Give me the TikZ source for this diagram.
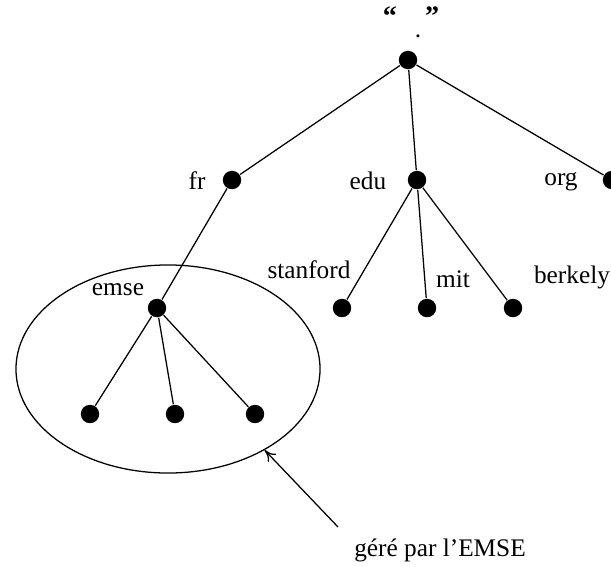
\documentclass[tikz,border=0pt]{standalone}
\usepackage{fontspec}
\setmainfont{Liberation Serif}
\usetikzlibrary{shapes.geometric,arrows.meta}

\begin{document}
\begin{tikzpicture}[x=0.025cm,y=-0.025cm]
		\tikzset{
			dot/.style ={
				circle, %noeud plein
				minimum size =0.46cm,
				inner sep=0pt,
				fill=black
			},
			lbl/.style ={
				inner sep=1pt,
				font=\fontsize{18}{21}\selectfont
			}
		}
		\useasboundingbox (0,0) rectangle (611,566);
		\begin{scope}[line width=0.9pt]
		% noeuds
		\node[dot] (1) at(408,60){};
		\node[dot] (2) at(232,180){};
		\node[dot] (3) at(417,180){};
		\node[dot] (4) at(612,180){};
		\node[dot] (5) at(157,308){};
		\node[dot] (6) at(342,308){};
		\node[dot] (7) at(427,308){};
		\node[dot] (8) at(513,308){};
		\node[dot] (9) at(90,414){};
		\node[dot] (10) at(175,414){};
		\node[dot] (11) at(255,414){};
		% etiquettes
		\node[lbl,font=\fontsize{20}{22}\selectfont\bfseries] (q) at(411,16){``\hspace{1em}''};
		\node[lbl,inner sep=0pt] (pt) at(418,36){.};
		\node[lbl] (fr) at(197,181){fr};
		\node[lbl] (edu) at(368,181){edu};
		\node[lbl] (org) at(561,182){org};
		\node[lbl] (emse) at(118,290){emse};
		\node[lbl] (stanford) at(309,270){stanford};
		\node[lbl] (mit) at(453,279){mit};
		\node[lbl] (berkely) at(572,277){berkely};
		\node[lbl] (gere) at(440,550){géré par l'EMSE};
		% zone
		\node[draw,ellipse,minimum width=7.6cm,minimum height=5.2cm] (zone) at(168,369){};
		\coordinate (a) at(338,527);
		% aretes
		\draw[-] (1)--(2);
		\draw[-] (1)--(3);
		\draw[-] (1)--(4);
		\draw[-] (2)--(5);
		\draw[-] (3)--(6);
		\draw[-] (3)--(7);
		\draw[-] (3)--(8);
		\draw[-] (5)--(9);
		\draw[-] (5)--(10);
		\draw[-] (5)--(11);
		\draw[-{To[length=8pt,width=8pt]}] (a)--(zone.-40);
		\end{scope}
	\end{tikzpicture}
\end{document}
